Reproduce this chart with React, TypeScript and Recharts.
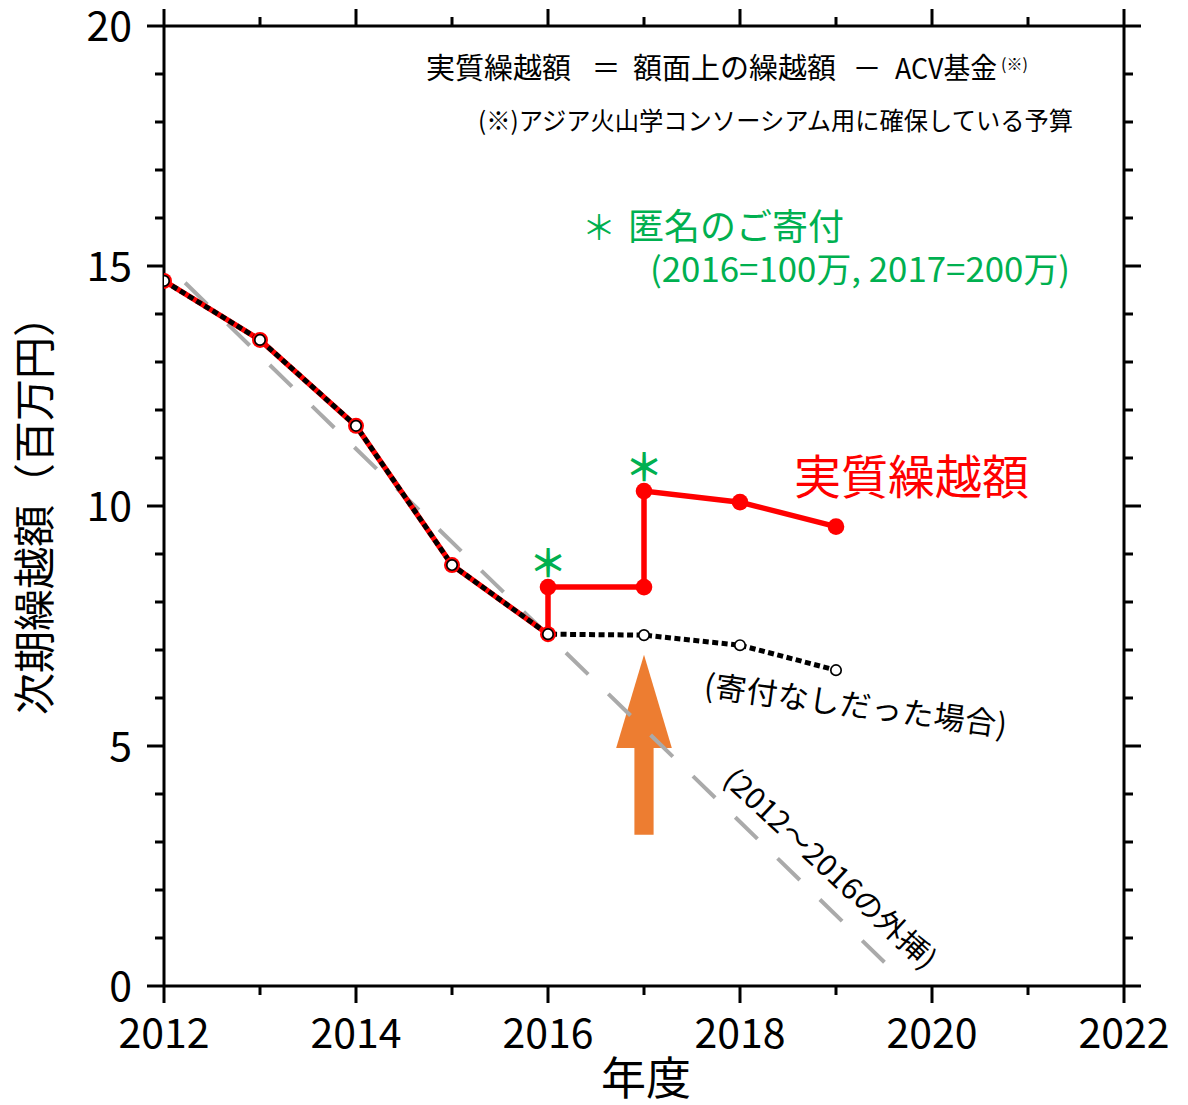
import React from 'react';
import { LineChart, Line, XAxis, YAxis, ReferenceArea, ReferenceDot } from 'recharts';

// ---- data ----
const noDonationYears = [2012, 2013, 2014, 2015, 2016, 2017, 2018, 2019];
const noDonationValues = [14.69, 13.46, 11.67, 8.77, 7.33, 7.31, 7.1, 6.58];
const realYears = [2012, 2013, 2014, 2015, 2016, 2016, 2017, 2017, 2018, 2019];
const realValues = [14.69, 13.46, 11.67, 8.77, 7.33, 8.31, 8.31, 10.31, 10.08, 9.57];
const trendYears = [2012.22, 2019.59];
const trendValues = [14.65, 0.33];
const donationYears = [2016, 2017];
const donationValues = [8.31, 10.31];
const xTicks = [2012, 2013, 2014, 2015, 2016, 2017, 2018, 2019, 2020, 2021, 2022];
const yTicks = [0, 1, 2, 3, 4, 5, 6, 7, 8, 9, 10, 11, 12, 13, 14, 15, 16, 17, 18, 19, 20];
const xLabelTicks = [2012, 2014, 2016, 2018, 2020, 2022];
const yLabelTicks = [0, 5, 10, 15, 20];
const arrowYear = 2017;
const arrowTail = 3.15;
const arrowHeadBase = 4.96;
const arrowTip = 6.9;

const noDonationData = noDonationYears.map((x, i) => ({ x, y: noDonationValues[i] }));
const realData = realYears.map((x, i) => ({ x, y: realValues[i] }));
const trendData = trendYears.map((x, i) => ({ x, y: trendValues[i] }));

const FONT = "'Noto Sans CJK JP', 'Noto Sans', sans-serif";
const GREEN = '#00B050';
const RED = '#FF0000';
const ORANGE = '#ED7D31';

const MAJOR = 17;
const MINOR = 9;

const BottomTick = (props: any) => {
  const { x, y, payload } = props;
  const v = payload.value;
  const major = xLabelTicks.includes(v);
  return (
    <g>
      <line x1={x} x2={x} y1={y} y2={y + (major ? MAJOR : MINOR)} stroke="#000" strokeWidth={3} />
      {major && (
        <text x={x} y={y + 62} textAnchor="middle" fontSize={41} fontFamily={FONT} fill="#000">
          {v}
        </text>
      )}
    </g>
  );
};

const TopTick = (props: any) => {
  const { x, y, payload } = props;
  const major = xLabelTicks.includes(payload.value);
  return <line x1={x} x2={x} y1={y} y2={y - (major ? MAJOR : MINOR)} stroke="#000" strokeWidth={3} />;
};

const LeftTick = (props: any) => {
  const { x, y, payload } = props;
  const v = payload.value;
  const major = yLabelTicks.includes(v);
  return (
    <g>
      <line x1={x} x2={x - (major ? MAJOR : MINOR)} y1={y} y2={y} stroke="#000" strokeWidth={3} />
      {major && (
        <text x={x - 32} y={y + 15} textAnchor="end" fontSize={41} fontFamily={FONT} fill="#000">
          {v}
        </text>
      )}
    </g>
  );
};

const RightTick = (props: any) => {
  const { x, y, payload } = props;
  const major = yLabelTicks.includes(payload.value);
  return <line x1={x} x2={x + (major ? MAJOR : MINOR)} y1={y} y2={y} stroke="#000" strokeWidth={3} />;
};

const redDot = (props: any) => {
  const { cx, cy, index } = props;
  return <circle key={`r${index}`} cx={cx} cy={cy} r={index <= 4 ? 8 : 8.3} fill={RED} stroke="none" />;
};

const blackDot = (props: any) => {
  const { cx, cy, index } = props;
  return (
    <circle key={`b${index}`} cx={cx} cy={cy} r={5.2} fill="#fff" stroke="#000" strokeWidth={1.7} strokeDasharray="none" />
  );
};

const arrowHead = (p: any) => {
  const { x, y, width, height } = p;
  return (
    <polygon
      points={`${x},${y + height} ${x + width},${y + height} ${x + width / 2},${y}`}
      fill={ORANGE}
      stroke="none"
    />
  );
};

const asterisk = (p: any) => (
  <text x={p.cx} y={p.cy - 10} textAnchor="middle" fontSize={38} fontFamily={FONT} fill={GREEN} fontWeight={700}>
    ＊
  </text>
);

export default function App() {
  return (
    <div style={{ position: 'absolute', left: 0, top: 0, width: 1188, height: 1105, background: '#fff' }}>
      <LineChart width={1188} height={1105} margin={{ top: 0, right: 0, bottom: 0, left: 0 }}>
        <XAxis
          dataKey="x"
          type="number"
          domain={[2012, 2022]}
          ticks={xTicks}
          interval={0}
          height={119}
          tickSize={0}
          tickMargin={0}
          tick={<BottomTick />}
          axisLine={{ stroke: '#000', strokeWidth: 3 }}
          allowDataOverflow
        />
        <XAxis
          xAxisId="top"
          orientation="top"
          dataKey="x"
          type="number"
          domain={[2012, 2022]}
          ticks={xTicks}
          interval={0}
          height={26}
          tickSize={0}
          tickMargin={0}
          tick={<TopTick />}
          axisLine={{ stroke: '#000', strokeWidth: 3 }}
          allowDataOverflow
        />
        <YAxis
          type="number"
          domain={[0, 20]}
          ticks={yTicks}
          interval={0}
          width={164}
          tickSize={0}
          tickMargin={0}
          tick={<LeftTick />}
          axisLine={{ stroke: '#000', strokeWidth: 3 }}
          allowDataOverflow
        />
        <YAxis
          yAxisId="right"
          orientation="right"
          type="number"
          domain={[0, 20]}
          ticks={yTicks}
          interval={0}
          width={64}
          tickSize={0}
          tickMargin={0}
          tick={<RightTick />}
          axisLine={{ stroke: '#000', strokeWidth: 3 }}
          allowDataOverflow
        />
        <ReferenceArea
          x1={arrowYear - 0.1}
          x2={arrowYear + 0.1}
          y1={arrowTail}
          y2={arrowHeadBase + 0.03}
          fill={ORANGE}
          fillOpacity={1}
          stroke="none"
        />
        <ReferenceArea
          x1={arrowYear - 0.29}
          x2={arrowYear + 0.29}
          y1={arrowHeadBase}
          y2={arrowTip}
          shape={arrowHead}
        />
        <Line
          data={trendData}
          dataKey="y"
          stroke="#AAAAAA"
          strokeWidth={4}
          strokeDasharray="31 28"
          dot={false}
          activeDot={false}
          isAnimationActive={false}
        />
        <Line
          data={realData}
          dataKey="y"
          stroke={RED}
          strokeWidth={5.5}
          dot={redDot}
          activeDot={false}
          isAnimationActive={false}
        />
        <Line
          data={noDonationData}
          dataKey="y"
          stroke="#000"
          strokeWidth={5}
          strokeDasharray="6 3.5"
          dot={blackDot}
          activeDot={false}
          isAnimationActive={false}
        />
        {donationYears.map((yr, i) => (
          <ReferenceDot key={yr} x={yr} y={donationValues[i]} r={0} shape={asterisk} />
        ))}
      </LineChart>
      <svg
        width={1188}
        height={1105}
        style={{ position: 'absolute', left: 0, top: 0, pointerEvents: 'none' }}
        fontFamily={FONT}
      >
        {/* formula line */}
        <text x={426} y={79} fontSize={29} fill="#000">実質繰越額</text>
        <text x={606} y={79} fontSize={29} fill="#000" textAnchor="middle">＝</text>
        <text x={633} y={79} fontSize={29} fill="#000">額面上の繰越額</text>
        <text x={867} y={79} fontSize={29} fill="#000" textAnchor="middle">－</text>
        <text x={895} y={79} fontSize={29} fill="#000" textLength={102} lengthAdjust="spacingAndGlyphs">ACV基金</text>
        <text x={1001} y={70} fontSize={16} fill="#000">(※)</text>
        <text x={478} y={130} fontSize={25} fill="#000" textLength={595} lengthAdjust="spacingAndGlyphs">
          (※)アジア火山学コンソーシアム用に確保している予算
        </text>
        {/* green note */}
        <text x={599} y={240} fontSize={34} fill={GREEN} textAnchor="middle">＊</text>
        <text x={628} y={240} fontSize={36} fill={GREEN}>匿名のご寄付</text>
        <text x={650} y={282} fontSize={34} fill={GREEN} textLength={420} lengthAdjust="spacingAndGlyphs">
          (2016=100万, 2017=200万)
        </text>
        {/* red label */}
        <text x={794} y={494} fontSize={47} fill={RED}>実質繰越額</text>
        {/* rotated notes */}
        <text
          x={856}
          y={703}
          fontSize={31}
          fill="#000"
          textAnchor="middle"
          dominantBaseline="central"
          textLength={305}
          lengthAdjust="spacing"
          transform="rotate(7.6 856 703)"
        >
          (寄付なしだった場合)
        </text>
        <text
          x={832}
          y={867}
          fontSize={29}
          fill="#000"
          textAnchor="middle"
          dominantBaseline="central"
          textLength={278}
          lengthAdjust="spacingAndGlyphs"
          transform="rotate(43 832 867)"
        >
          (2012～2016の外挿)
        </text>
        {/* axis titles */}
        <text x={50} y={505} fontSize={42} fill="#000" textAnchor="middle" transform="rotate(-90 50 505)">
          次期繰越額（百万円）
        </text>
        <text x={646} y={1095} fontSize={45} fill="#000" textAnchor="middle">年度</text>
      </svg>
    </div>
  );
}
